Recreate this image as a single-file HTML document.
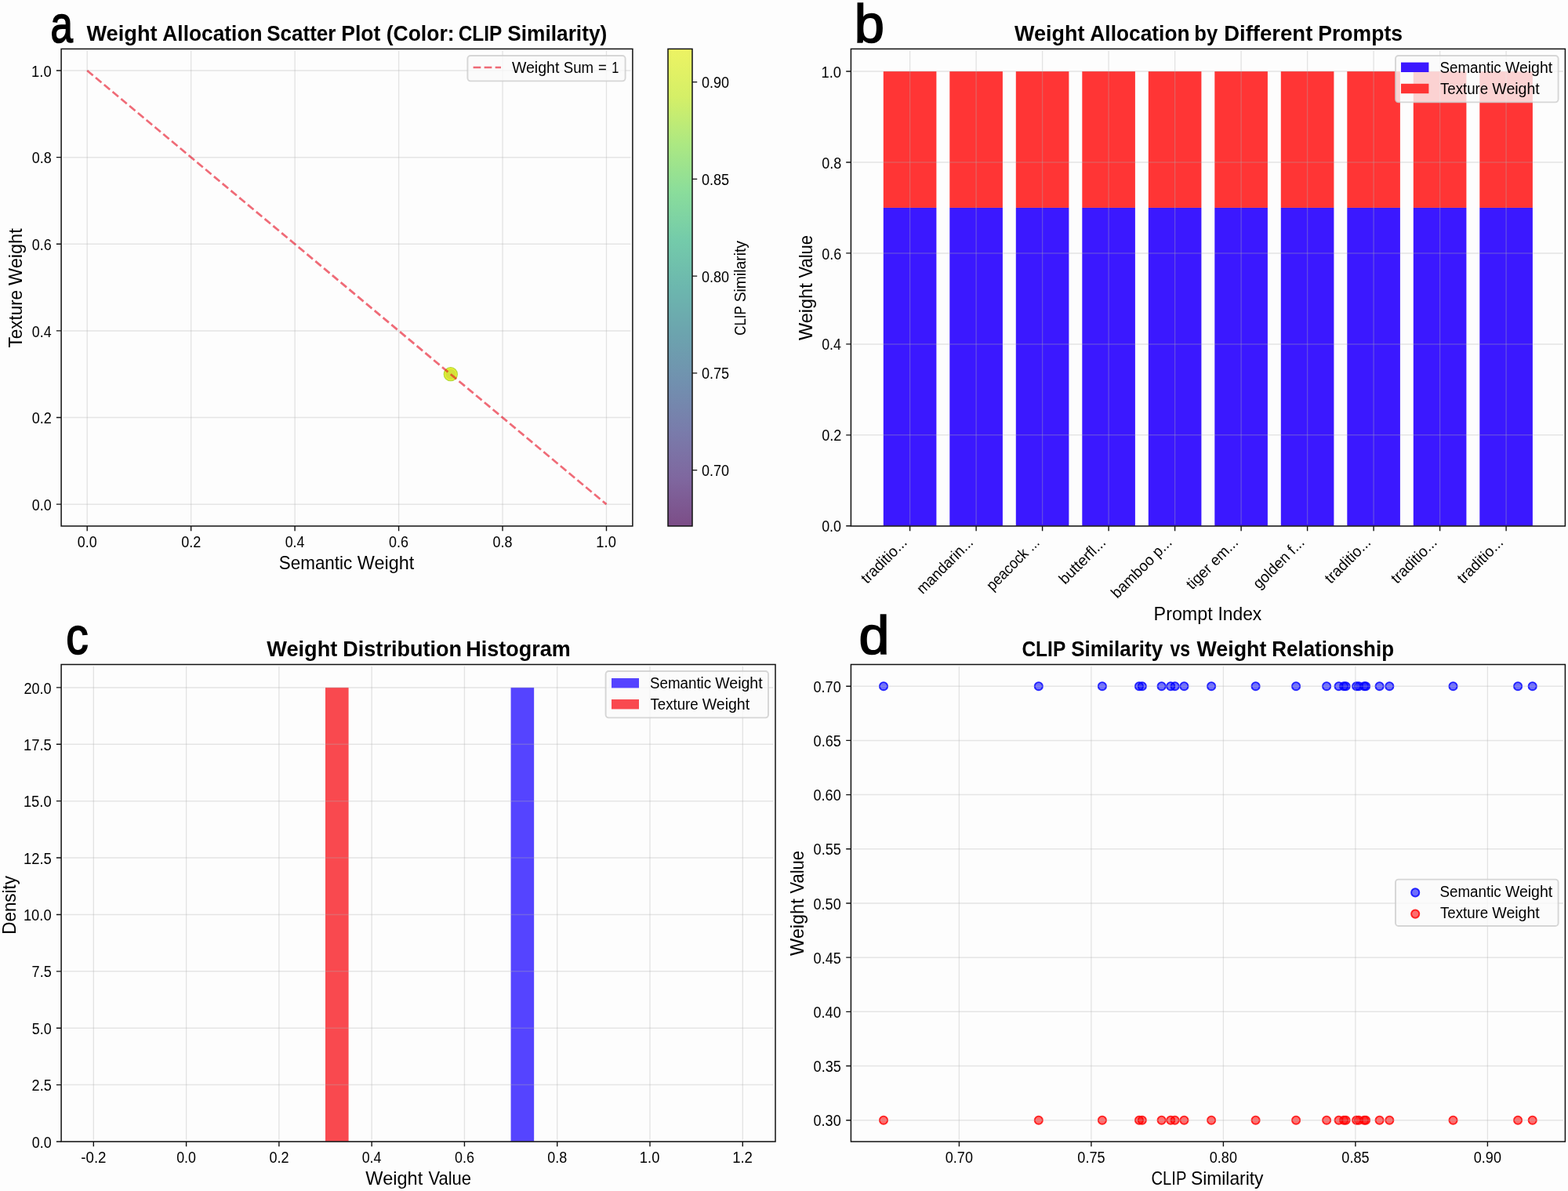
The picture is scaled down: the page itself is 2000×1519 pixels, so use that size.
<!DOCTYPE html>
<html lang="en"><head><meta charset="utf-8"><title>Weight Allocation Analysis</title>
<style>html,body{margin:0;padding:0;background:#fdfdfd}body{width:2000px;height:1519px;overflow:hidden}svg{display:block;font-family:'Liberation Sans', 'DejaVu Sans', sans-serif}text{fill:#000;white-space:pre}</style></head><body>
<svg xmlns="http://www.w3.org/2000/svg" width="2000" height="1519" viewBox="0 0 2000 1519">
<rect width="2000" height="1519" fill="#fdfdfd"/>
<g id="panel-a">
<circle cx="574.81" cy="477.22" r="8.5" fill="#d3e23a" stroke="#b4d83c" stroke-width="1.3"/>
<circle cx="574.81" cy="477.22" r="7.2" fill="none" stroke="#e6f032" stroke-width="1.3"/>
<path d="M111.2 64.7V668.65M243.66 64.7V668.65M376.12 64.7V668.65M508.58 64.7V668.65M641.04 64.7V668.65M773.5 64.7V668.65" stroke="#b0b0b0" stroke-opacity="0.33999999999999997" stroke-width="1.3" fill="none"/>
<path d="M80.4 643.15H804.6M80.4 532.53H804.6M80.4 421.91H804.6M80.4 311.29H804.6M80.4 200.67H804.6M80.4 90.05H804.6" stroke="#b0b0b0" stroke-opacity="0.3" stroke-width="1.5" fill="none"/>
<path d="M111.2 90.05L773.5 643.15" stroke="#e60a1e" stroke-opacity="0.6" stroke-width="2.7" stroke-dasharray="9.7 4.345" fill="none"/>
<rect x="78.1" y="62.4" width="728.8" height="608.55" fill="none" stroke="#111" stroke-width="1.5"/>
<path d="M111.2 670.95v6.2M243.66 670.95v6.2M376.12 670.95v6.2M508.58 670.95v6.2M641.04 670.95v6.2M773.5 670.95v6.2M78.1 643.15h-6.2M78.1 532.53h-6.2M78.1 421.91h-6.2M78.1 311.29h-6.2M78.1 200.67h-6.2M78.1 90.05h-6.2" stroke="#111" stroke-width="1.4" fill="none"/>
<text x="98.74" y="697.7" font-size="19.5" textLength="24.84" lengthAdjust="spacingAndGlyphs">0.0</text>
<text x="40.79" y="650.75" font-size="19.5" textLength="24.84" lengthAdjust="spacingAndGlyphs">0.0</text>
<text x="231.19" y="697.7" font-size="19.5" textLength="25.13" lengthAdjust="spacingAndGlyphs">0.2</text>
<text x="40.78" y="540.13" font-size="19.5" textLength="25.13" lengthAdjust="spacingAndGlyphs">0.2</text>
<text x="363.66" y="697.7" font-size="19.5" textLength="24.75" lengthAdjust="spacingAndGlyphs">0.4</text>
<text x="40.79" y="429.51" font-size="19.5" textLength="24.75" lengthAdjust="spacingAndGlyphs">0.4</text>
<text x="496.11" y="697.7" font-size="19.5" textLength="24.94" lengthAdjust="spacingAndGlyphs">0.6</text>
<text x="40.78" y="318.89" font-size="19.5" textLength="24.94" lengthAdjust="spacingAndGlyphs">0.6</text>
<text x="628.57" y="697.7" font-size="19.5" textLength="24.94" lengthAdjust="spacingAndGlyphs">0.8</text>
<text x="40.78" y="208.27" font-size="19.5" textLength="24.94" lengthAdjust="spacingAndGlyphs">0.8</text>
<text x="760.37" y="697.7" font-size="19.5" textLength="25.52" lengthAdjust="spacingAndGlyphs">1.0</text>
<text x="40.12" y="97.65" font-size="19.5" textLength="25.52" lengthAdjust="spacingAndGlyphs">1.0</text>
<text y="725.8" font-size="23.2"><tspan x="355.69" textLength="93.64" lengthAdjust="spacingAndGlyphs">Semantic</tspan> <tspan x="455.88" textLength="72.33" lengthAdjust="spacingAndGlyphs">Weight</tspan></text>
<text transform="translate(27.9 443) rotate(-90)" y="0" font-size="23.2"><tspan x="-0.45" textLength="73.54" lengthAdjust="spacingAndGlyphs">Texture</tspan> <tspan x="78.98" textLength="72.74" lengthAdjust="spacingAndGlyphs">Weight</tspan></text>
<text y="52.4" font-size="27.8" font-weight="bold"><tspan x="110.4" textLength="90.2" lengthAdjust="spacingAndGlyphs">Weight</tspan> <tspan x="207.34" textLength="127.2" lengthAdjust="spacingAndGlyphs">Allocation</tspan> <tspan x="340.22" textLength="88.19" lengthAdjust="spacingAndGlyphs">Scatter</tspan> <tspan x="435.28" textLength="50.09" lengthAdjust="spacingAndGlyphs">Plot</tspan> <tspan x="492.67" textLength="86.9" lengthAdjust="spacingAndGlyphs">(Color:</tspan> <tspan x="584.63" textLength="55.17" lengthAdjust="spacingAndGlyphs">CLIP</tspan> <tspan x="647.21" textLength="127.1" lengthAdjust="spacingAndGlyphs">Similarity)</tspan></text>
<text x="64.61" y="53.8" font-size="66" font-weight="bold" textLength="28.4" lengthAdjust="spacingAndGlyphs" style="font-weight:normal" stroke="#000" stroke-width="1.7" stroke-linejoin="miter">a</text>
<rect x="596.4" y="71" width="201.2" height="32.4" rx="3.8" fill="#fafafa" fill-opacity="0.8" stroke="#ccc" stroke-opacity="0.8" stroke-width="1.9"/>
<path d="M603.6 86H639" stroke="#e60a1e" stroke-opacity="0.6" stroke-width="2.7" stroke-dasharray="9.7 4.345" fill="none"/>
<text y="93.4" font-size="19.5"><tspan x="652.9" textLength="60.48" lengthAdjust="spacingAndGlyphs">Weight</tspan> <tspan x="718.76" textLength="38.38" lengthAdjust="spacingAndGlyphs">Sum</tspan> <tspan x="763.07" textLength="10.84" lengthAdjust="spacingAndGlyphs">=</tspan> <tspan x="780.28" textLength="9.08" lengthAdjust="spacingAndGlyphs">1</tspan></text>
<defs><linearGradient id="vir" x1="0" y1="1" x2="0" y2="0"><stop offset="0%" stop-color="rgb(124,77,135)"/><stop offset="10%" stop-color="rgb(127,103,159)"/><stop offset="20%" stop-color="rgb(121,124,171)"/><stop offset="30%" stop-color="rgb(113,144,175)"/><stop offset="40%" stop-color="rgb(108,163,174)"/><stop offset="50%" stop-color="rgb(108,183,174)"/><stop offset="60%" stop-color="rgb(116,203,170)"/><stop offset="70%" stop-color="rgb(138,221,155)"/><stop offset="80%" stop-color="rgb(172,232,130)"/><stop offset="90%" stop-color="rgb(213,239,103)"/><stop offset="100%" stop-color="rgb(237,243,99)"/></linearGradient></defs>
<rect x="852" y="62.4" width="31" height="608.55" fill="url(#vir)" stroke="#111" stroke-width="1.5"/>
<text x="894.88" y="607.2" font-size="19.5" textLength="35.08" lengthAdjust="spacingAndGlyphs">0.70</text>
<text x="894.88" y="483.45" font-size="19.5" textLength="35.17" lengthAdjust="spacingAndGlyphs">0.75</text>
<text x="894.88" y="359.7" font-size="19.5" textLength="35.08" lengthAdjust="spacingAndGlyphs">0.80</text>
<text x="894.88" y="235.95" font-size="19.5" textLength="35.17" lengthAdjust="spacingAndGlyphs">0.85</text>
<text x="894.88" y="112.2" font-size="19.5" textLength="35.08" lengthAdjust="spacingAndGlyphs">0.90</text>
<path d="M883 599.6h6.2M883 475.85h6.2M883 352.1h6.2M883 228.35h6.2M883 104.6h6.2" stroke="#111" stroke-width="1.4" fill="none"/>
<text transform="translate(951 427) rotate(-90)" y="0" font-size="19.5"><tspan x="-0.84" textLength="37.44" lengthAdjust="spacingAndGlyphs">CLIP</tspan> <tspan x="41.63" textLength="78.39" lengthAdjust="spacingAndGlyphs">Similarity</tspan></text>
</g>
<g id="panel-b">
<rect x="1126.8" y="264.94" width="67.6" height="405.86" fill="#3b18ff"/>
<rect x="1126.8" y="91" width="67.6" height="173.94" fill="#ff3535"/>
<rect x="1211.3" y="264.94" width="67.6" height="405.86" fill="#3b18ff"/>
<rect x="1211.3" y="91" width="67.6" height="173.94" fill="#ff3535"/>
<rect x="1295.8" y="264.94" width="67.6" height="405.86" fill="#3b18ff"/>
<rect x="1295.8" y="91" width="67.6" height="173.94" fill="#ff3535"/>
<rect x="1380.3" y="264.94" width="67.6" height="405.86" fill="#3b18ff"/>
<rect x="1380.3" y="91" width="67.6" height="173.94" fill="#ff3535"/>
<rect x="1464.8" y="264.94" width="67.6" height="405.86" fill="#3b18ff"/>
<rect x="1464.8" y="91" width="67.6" height="173.94" fill="#ff3535"/>
<rect x="1549.3" y="264.94" width="67.6" height="405.86" fill="#3b18ff"/>
<rect x="1549.3" y="91" width="67.6" height="173.94" fill="#ff3535"/>
<rect x="1633.8" y="264.94" width="67.6" height="405.86" fill="#3b18ff"/>
<rect x="1633.8" y="91" width="67.6" height="173.94" fill="#ff3535"/>
<rect x="1718.3" y="264.94" width="67.6" height="405.86" fill="#3b18ff"/>
<rect x="1718.3" y="91" width="67.6" height="173.94" fill="#ff3535"/>
<rect x="1802.8" y="264.94" width="67.6" height="405.86" fill="#3b18ff"/>
<rect x="1802.8" y="91" width="67.6" height="173.94" fill="#ff3535"/>
<rect x="1887.3" y="264.94" width="67.6" height="405.86" fill="#3b18ff"/>
<rect x="1887.3" y="91" width="67.6" height="173.94" fill="#ff3535"/>
<path d="M1160.6 64.7V668.65M1245.1 64.7V668.65M1329.6 64.7V668.65M1414.1 64.7V668.65M1498.6 64.7V668.65M1583.1 64.7V668.65M1667.6 64.7V668.65M1752.1 64.7V668.65M1836.6 64.7V668.65M1921.1 64.7V668.65" stroke="#b0b0b0" stroke-opacity="0.33999999999999997" stroke-width="1.3" fill="none"/>
<path d="M1087.7 670.8H1994.1M1087.7 554.84H1994.1M1087.7 438.88H1994.1M1087.7 322.92H1994.1M1087.7 206.96H1994.1M1087.7 91H1994.1" stroke="#b0b0b0" stroke-opacity="0.3" stroke-width="1.5" fill="none"/>
<rect x="1085.4" y="62.4" width="911" height="608.55" fill="none" stroke="#111" stroke-width="1.5"/>
<path d="M1160.6 670.95v6.2M1245.1 670.95v6.2M1329.6 670.95v6.2M1414.1 670.95v6.2M1498.6 670.95v6.2M1583.1 670.95v6.2M1667.6 670.95v6.2M1752.1 670.95v6.2M1836.6 670.95v6.2M1921.1 670.95v6.2M1085.4 670.8h-6.2M1085.4 554.84h-6.2M1085.4 438.88h-6.2M1085.4 322.92h-6.2M1085.4 206.96h-6.2M1085.4 91h-6.2" stroke="#111" stroke-width="1.4" fill="none"/>
<text x="1048.19" y="678.4" font-size="19.5" textLength="24.84" lengthAdjust="spacingAndGlyphs">0.0</text>
<text x="1048.18" y="562.44" font-size="19.5" textLength="25.13" lengthAdjust="spacingAndGlyphs">0.2</text>
<text x="1048.19" y="446.48" font-size="19.5" textLength="24.75" lengthAdjust="spacingAndGlyphs">0.4</text>
<text x="1048.18" y="330.52" font-size="19.5" textLength="24.94" lengthAdjust="spacingAndGlyphs">0.6</text>
<text x="1048.18" y="214.56" font-size="19.5" textLength="24.94" lengthAdjust="spacingAndGlyphs">0.8</text>
<text x="1047.52" y="98.6" font-size="19.5" textLength="25.52" lengthAdjust="spacingAndGlyphs">1.0</text>
<text transform="translate(1156.8 694.3) rotate(-45)" x="-71.9" y="0" font-size="19.5" textLength="73.73" lengthAdjust="spacingAndGlyphs">traditio...</text>
<text transform="translate(1241.3 694.3) rotate(-45)" x="-90.91" y="0" font-size="19.5" textLength="92.62" lengthAdjust="spacingAndGlyphs">mandarin...</text>
<text transform="translate(1325.8 694.3) rotate(-45)" x="-84.73" y="0" font-size="19.5" textLength="86.35" lengthAdjust="spacingAndGlyphs">peacock ...</text>
<text transform="translate(1410.3 694.3) rotate(-45)" x="-73.36" y="0" font-size="19.5" textLength="75.11" lengthAdjust="spacingAndGlyphs">butterfl...</text>
<text transform="translate(1494.8 694.3) rotate(-45)" x="-98.66" y="0" font-size="19.5" textLength="100.4" lengthAdjust="spacingAndGlyphs">bamboo p...</text>
<text transform="translate(1579.3 694.3) rotate(-45)" x="-82.79" y="0" font-size="19.5" textLength="84.52" lengthAdjust="spacingAndGlyphs">tiger em...</text>
<text transform="translate(1663.8 694.3) rotate(-45)" x="-81.75" y="0" font-size="19.5" textLength="83.5" lengthAdjust="spacingAndGlyphs">golden f...</text>
<text transform="translate(1748.3 694.3) rotate(-45)" x="-71.9" y="0" font-size="19.5" textLength="73.73" lengthAdjust="spacingAndGlyphs">traditio...</text>
<text transform="translate(1832.8 694.3) rotate(-45)" x="-71.9" y="0" font-size="19.5" textLength="73.73" lengthAdjust="spacingAndGlyphs">traditio...</text>
<text transform="translate(1917.3 694.3) rotate(-45)" x="-71.9" y="0" font-size="19.5" textLength="73.73" lengthAdjust="spacingAndGlyphs">traditio...</text>
<text y="791" font-size="23.2"><tspan x="1471.64" textLength="75.06" lengthAdjust="spacingAndGlyphs">Prompt</tspan> <tspan x="1553.45" textLength="55.81" lengthAdjust="spacingAndGlyphs">Index</tspan></text>
<text transform="translate(1035.9 434) rotate(-90)" y="0" font-size="23.2"><tspan x="-0.12" textLength="72.84" lengthAdjust="spacingAndGlyphs">Weight</tspan> <tspan x="79.39" textLength="54.68" lengthAdjust="spacingAndGlyphs">Value</tspan></text>
<text y="52.4" font-size="27.8" font-weight="bold"><tspan x="1294" textLength="89.39" lengthAdjust="spacingAndGlyphs">Weight</tspan> <tspan x="1390.34" textLength="127.2" lengthAdjust="spacingAndGlyphs">Allocation</tspan> <tspan x="1523.34" textLength="29.84" lengthAdjust="spacingAndGlyphs">by</tspan> <tspan x="1561.21" textLength="113.1" lengthAdjust="spacingAndGlyphs">Different</tspan> <tspan x="1681.27" textLength="107.82" lengthAdjust="spacingAndGlyphs">Prompts</tspan></text>
<text x="1089.79" y="53.6" font-size="69" font-weight="bold" textLength="38.19" lengthAdjust="spacingAndGlyphs" style="font-weight:normal" stroke="#000" stroke-width="1.7" stroke-linejoin="miter">b</text>
<rect x="1780" y="71" width="207.6" height="59.4" rx="3.8" fill="#fafafa" fill-opacity="0.8" stroke="#ccc" stroke-opacity="0.8" stroke-width="1.9"/>
<rect x="1787" y="79.6" width="35.4" height="12.4" fill="#3b18ff"/>
<rect x="1787" y="106.8" width="35.4" height="12.4" fill="#ff3535"/>
<text y="93.4" font-size="19.5"><tspan x="1836.56" textLength="78.19" lengthAdjust="spacingAndGlyphs">Semantic</tspan> <tspan x="1919.9" textLength="60.28" lengthAdjust="spacingAndGlyphs">Weight</tspan></text>
<text y="120.4" font-size="19.5"><tspan x="1837.03" textLength="61.2" lengthAdjust="spacingAndGlyphs">Texture</tspan> <tspan x="1903.3" textLength="60.48" lengthAdjust="spacingAndGlyphs">Weight</tspan></text>
</g>
<g id="panel-c">
<rect x="651.58" y="876.9" width="29.57" height="579.1" fill="#5544ff"/>
<rect x="415.02" y="876.9" width="29.57" height="579.1" fill="#f9494f"/>
<path d="M119.32 849.8V1453.7M237.6 849.8V1453.7M355.88 849.8V1453.7M474.16 849.8V1453.7M592.44 849.8V1453.7M710.72 849.8V1453.7M829 849.8V1453.7M947.28 849.8V1453.7" stroke="#b0b0b0" stroke-opacity="0.33999999999999997" stroke-width="1.3" fill="none"/>
<path d="M80.4 1456H986.7M80.4 1383.61H986.7M80.4 1311.22H986.7M80.4 1238.84H986.7M80.4 1166.45H986.7M80.4 1094.06H986.7M80.4 1021.67H986.7M80.4 949.29H986.7M80.4 876.9H986.7" stroke="#b0b0b0" stroke-opacity="0.3" stroke-width="1.5" fill="none"/>
<rect x="78.1" y="847.5" width="910.9" height="608.5" fill="none" stroke="#111" stroke-width="1.5"/>
<path d="M119.32 1456v6.2M237.6 1456v6.2M355.88 1456v6.2M474.16 1456v6.2M592.44 1456v6.2M710.72 1456v6.2M829 1456v6.2M947.28 1456v6.2M78.1 1456h-6.2M78.1 1383.61h-6.2M78.1 1311.22h-6.2M78.1 1238.84h-6.2M78.1 1166.45h-6.2M78.1 1094.06h-6.2M78.1 1021.67h-6.2M78.1 949.29h-6.2M78.1 876.9h-6.2" stroke="#111" stroke-width="1.4" fill="none"/>
<text x="103.28" y="1482.8" font-size="19.5" textLength="32.24" lengthAdjust="spacingAndGlyphs">-0.2</text>
<text x="225.14" y="1482.8" font-size="19.5" textLength="24.84" lengthAdjust="spacingAndGlyphs">0.0</text>
<text x="343.41" y="1482.8" font-size="19.5" textLength="25.13" lengthAdjust="spacingAndGlyphs">0.2</text>
<text x="461.7" y="1482.8" font-size="19.5" textLength="24.75" lengthAdjust="spacingAndGlyphs">0.4</text>
<text x="579.97" y="1482.8" font-size="19.5" textLength="24.94" lengthAdjust="spacingAndGlyphs">0.6</text>
<text x="698.25" y="1482.8" font-size="19.5" textLength="24.94" lengthAdjust="spacingAndGlyphs">0.8</text>
<text x="815.87" y="1482.8" font-size="19.5" textLength="25.52" lengthAdjust="spacingAndGlyphs">1.0</text>
<text x="934.14" y="1482.8" font-size="19.5" textLength="25.83" lengthAdjust="spacingAndGlyphs">1.2</text>
<text x="40.79" y="1463.6" font-size="19.5" textLength="24.84" lengthAdjust="spacingAndGlyphs">0.0</text>
<text x="40.6" y="1391.21" font-size="19.5" textLength="25.13" lengthAdjust="spacingAndGlyphs">2.5</text>
<text x="40.79" y="1318.82" font-size="19.5" textLength="24.84" lengthAdjust="spacingAndGlyphs">5.0</text>
<text x="40.6" y="1246.44" font-size="19.5" textLength="25.13" lengthAdjust="spacingAndGlyphs">7.5</text>
<text x="29.92" y="1174.05" font-size="19.5" textLength="35.74" lengthAdjust="spacingAndGlyphs">10.0</text>
<text x="29.92" y="1101.66" font-size="19.5" textLength="35.84" lengthAdjust="spacingAndGlyphs">12.5</text>
<text x="29.92" y="1029.27" font-size="19.5" textLength="35.74" lengthAdjust="spacingAndGlyphs">15.0</text>
<text x="29.92" y="956.89" font-size="19.5" textLength="35.84" lengthAdjust="spacingAndGlyphs">17.5</text>
<text x="30.39" y="884.5" font-size="19.5" textLength="35.26" lengthAdjust="spacingAndGlyphs">20.0</text>
<text y="1510.7" font-size="23.2"><tspan x="466.38" textLength="72.84" lengthAdjust="spacingAndGlyphs">Weight</tspan> <tspan x="546.39" textLength="54.68" lengthAdjust="spacingAndGlyphs">Value</tspan></text>
<text transform="translate(20 1190) rotate(-90)" x="-1.79" y="0" font-size="23.2" textLength="74.78" lengthAdjust="spacingAndGlyphs">Density</text>
<text y="837" font-size="27.8" font-weight="bold"><tspan x="340.3" textLength="90.09" lengthAdjust="spacingAndGlyphs">Weight</tspan> <tspan x="437.24" textLength="151.9" lengthAdjust="spacingAndGlyphs">Distribution</tspan> <tspan x="594.25" textLength="133.38" lengthAdjust="spacingAndGlyphs">Histogram</tspan></text>
<text x="84.18" y="834" font-size="66" font-weight="bold" textLength="28.39" lengthAdjust="spacingAndGlyphs" style="font-weight:normal" stroke="#000" stroke-width="1.7" stroke-linejoin="miter">c</text>
<rect x="772.6" y="856" width="207.4" height="59.4" rx="3.8" fill="#fafafa" fill-opacity="0.8" stroke="#ccc" stroke-opacity="0.8" stroke-width="1.9"/>
<rect x="780" y="865" width="35" height="12.4" fill="#5544ff"/>
<rect x="780" y="892" width="35" height="12.4" fill="#f9494f"/>
<text y="878.4" font-size="19.5"><tspan x="828.96" textLength="78.19" lengthAdjust="spacingAndGlyphs">Semantic</tspan> <tspan x="912.3" textLength="60.28" lengthAdjust="spacingAndGlyphs">Weight</tspan></text>
<text y="905.4" font-size="19.5"><tspan x="829.43" textLength="61.2" lengthAdjust="spacingAndGlyphs">Texture</tspan> <tspan x="895.7" textLength="60.48" lengthAdjust="spacingAndGlyphs">Weight</tspan></text>
</g>
<g id="panel-d">
<g fill="#0000ff" stroke="#0000ff" fill-opacity="0.56" stroke-opacity="0.82" stroke-width="1.9">
<circle cx="1127" cy="875.2" r="5.1"/>
<circle cx="1324.8" cy="875.2" r="5.1"/>
<circle cx="1405.9" cy="875.2" r="5.1"/>
<circle cx="1453" cy="875.2" r="5.1"/>
<circle cx="1456.8" cy="875.2" r="5.1"/>
<circle cx="1481.6" cy="875.2" r="5.1"/>
<circle cx="1493.2" cy="875.2" r="5.1"/>
<circle cx="1498.6" cy="875.2" r="5.1"/>
<circle cx="1510.4" cy="875.2" r="5.1"/>
<circle cx="1545.1" cy="875.2" r="5.1"/>
<circle cx="1601.6" cy="875.2" r="5.1"/>
<circle cx="1653.1" cy="875.2" r="5.1"/>
<circle cx="1692.1" cy="875.2" r="5.1"/>
<circle cx="1707.6" cy="875.2" r="5.1"/>
<circle cx="1714.1" cy="875.2" r="5.1"/>
<circle cx="1716.6" cy="875.2" r="5.1"/>
<circle cx="1730.1" cy="875.2" r="5.1"/>
<circle cx="1733.1" cy="875.2" r="5.1"/>
<circle cx="1740.1" cy="875.2" r="5.1"/>
<circle cx="1742.1" cy="875.2" r="5.1"/>
<circle cx="1759.6" cy="875.2" r="5.1"/>
<circle cx="1772.3" cy="875.2" r="5.1"/>
<circle cx="1853.5" cy="875.2" r="5.1"/>
<circle cx="1936.1" cy="875.2" r="5.1"/>
<circle cx="1954.7" cy="875.2" r="5.1"/>
</g>
<g fill="#ff0000" stroke="#ff0000" fill-opacity="0.56" stroke-opacity="0.82" stroke-width="1.9">
<circle cx="1127" cy="1428.7" r="5.1"/>
<circle cx="1324.8" cy="1428.7" r="5.1"/>
<circle cx="1405.9" cy="1428.7" r="5.1"/>
<circle cx="1453" cy="1428.7" r="5.1"/>
<circle cx="1456.8" cy="1428.7" r="5.1"/>
<circle cx="1481.6" cy="1428.7" r="5.1"/>
<circle cx="1493.2" cy="1428.7" r="5.1"/>
<circle cx="1498.6" cy="1428.7" r="5.1"/>
<circle cx="1510.4" cy="1428.7" r="5.1"/>
<circle cx="1545.1" cy="1428.7" r="5.1"/>
<circle cx="1601.6" cy="1428.7" r="5.1"/>
<circle cx="1653.1" cy="1428.7" r="5.1"/>
<circle cx="1692.1" cy="1428.7" r="5.1"/>
<circle cx="1707.6" cy="1428.7" r="5.1"/>
<circle cx="1714.1" cy="1428.7" r="5.1"/>
<circle cx="1716.6" cy="1428.7" r="5.1"/>
<circle cx="1730.1" cy="1428.7" r="5.1"/>
<circle cx="1733.1" cy="1428.7" r="5.1"/>
<circle cx="1740.1" cy="1428.7" r="5.1"/>
<circle cx="1742.1" cy="1428.7" r="5.1"/>
<circle cx="1759.6" cy="1428.7" r="5.1"/>
<circle cx="1772.3" cy="1428.7" r="5.1"/>
<circle cx="1853.5" cy="1428.7" r="5.1"/>
<circle cx="1936.1" cy="1428.7" r="5.1"/>
<circle cx="1954.7" cy="1428.7" r="5.1"/>
</g>
<path d="M1223.4 849.8V1453.7M1391.9 849.8V1453.7M1560.4 849.8V1453.7M1728.9 849.8V1453.7M1897.4 849.8V1453.7" stroke="#b0b0b0" stroke-opacity="0.33999999999999997" stroke-width="1.3" fill="none"/>
<path d="M1087.7 1428.7H1994.1M1087.7 1359.51H1994.1M1087.7 1290.33H1994.1M1087.7 1221.14H1994.1M1087.7 1151.95H1994.1M1087.7 1082.76H1994.1M1087.7 1013.58H1994.1M1087.7 944.39H1994.1M1087.7 875.2H1994.1" stroke="#b0b0b0" stroke-opacity="0.3" stroke-width="1.5" fill="none"/>
<rect x="1085.4" y="847.5" width="911" height="608.5" fill="none" stroke="#111" stroke-width="1.5"/>
<path d="M1223.4 1456v6.2M1391.9 1456v6.2M1560.4 1456v6.2M1728.9 1456v6.2M1897.4 1456v6.2M1085.4 1428.7h-6.2M1085.4 1359.51h-6.2M1085.4 1290.33h-6.2M1085.4 1221.14h-6.2M1085.4 1151.95h-6.2M1085.4 1082.76h-6.2M1085.4 1013.58h-6.2M1085.4 944.39h-6.2M1085.4 875.2h-6.2" stroke="#111" stroke-width="1.4" fill="none"/>
<text x="1205.83" y="1482.8" font-size="19.5" textLength="35.08" lengthAdjust="spacingAndGlyphs">0.70</text>
<text x="1374.33" y="1482.8" font-size="19.5" textLength="35.17" lengthAdjust="spacingAndGlyphs">0.75</text>
<text x="1542.83" y="1482.8" font-size="19.5" textLength="35.08" lengthAdjust="spacingAndGlyphs">0.80</text>
<text x="1711.33" y="1482.8" font-size="19.5" textLength="35.17" lengthAdjust="spacingAndGlyphs">0.85</text>
<text x="1879.83" y="1482.8" font-size="19.5" textLength="35.08" lengthAdjust="spacingAndGlyphs">0.90</text>
<text x="1037.58" y="1436.3" font-size="19.5" textLength="35.08" lengthAdjust="spacingAndGlyphs">0.30</text>
<text x="1037.58" y="1367.11" font-size="19.5" textLength="35.17" lengthAdjust="spacingAndGlyphs">0.35</text>
<text x="1037.58" y="1297.92" font-size="19.5" textLength="35.08" lengthAdjust="spacingAndGlyphs">0.40</text>
<text x="1037.58" y="1228.74" font-size="19.5" textLength="35.17" lengthAdjust="spacingAndGlyphs">0.45</text>
<text x="1037.58" y="1159.55" font-size="19.5" textLength="35.08" lengthAdjust="spacingAndGlyphs">0.50</text>
<text x="1037.58" y="1090.36" font-size="19.5" textLength="35.17" lengthAdjust="spacingAndGlyphs">0.55</text>
<text x="1037.58" y="1021.18" font-size="19.5" textLength="35.08" lengthAdjust="spacingAndGlyphs">0.60</text>
<text x="1037.58" y="951.99" font-size="19.5" textLength="35.17" lengthAdjust="spacingAndGlyphs">0.65</text>
<text x="1037.58" y="882.8" font-size="19.5" textLength="35.08" lengthAdjust="spacingAndGlyphs">0.70</text>
<text y="1510.7" font-size="23.2"><tspan x="1468.5" textLength="44.57" lengthAdjust="spacingAndGlyphs">CLIP</tspan> <tspan x="1518.97" textLength="92.55" lengthAdjust="spacingAndGlyphs">Similarity</tspan></text>
<text transform="translate(1025 1219) rotate(-90)" y="0" font-size="23.2"><tspan x="-0.12" textLength="72.84" lengthAdjust="spacingAndGlyphs">Weight</tspan> <tspan x="79.39" textLength="54.68" lengthAdjust="spacingAndGlyphs">Value</tspan></text>
<text y="837" font-size="27.8" font-weight="bold"><tspan x="1303.43" textLength="55.37" lengthAdjust="spacingAndGlyphs">CLIP</tspan> <tspan x="1366.22" textLength="116.96" lengthAdjust="spacingAndGlyphs">Similarity</tspan> <tspan x="1492.38" textLength="25.59" lengthAdjust="spacingAndGlyphs">vs</tspan> <tspan x="1526.5" textLength="88.89" lengthAdjust="spacingAndGlyphs">Weight</tspan> <tspan x="1622.31" textLength="155.74" lengthAdjust="spacingAndGlyphs">Relationship</tspan></text>
<text x="1095.45" y="834" font-size="69" font-weight="bold" textLength="38.93" lengthAdjust="spacingAndGlyphs" style="font-weight:normal" stroke="#000" stroke-width="1.7" stroke-linejoin="miter">d</text>
<rect x="1780" y="1121.6" width="207.6" height="59.4" rx="3.8" fill="#fafafa" fill-opacity="0.8" stroke="#ccc" stroke-opacity="0.8" stroke-width="1.9"/>
<circle cx="1805.2" cy="1138.4" r="5.1" fill="#0000ff" stroke="#0000ff" fill-opacity="0.56" stroke-opacity="0.82" stroke-width="1.9"/>
<circle cx="1805.2" cy="1165.6" r="5.1" fill="#ff0000" stroke="#ff0000" fill-opacity="0.56" stroke-opacity="0.82" stroke-width="1.9"/>
<text y="1144" font-size="19.5"><tspan x="1836.56" textLength="78.19" lengthAdjust="spacingAndGlyphs">Semantic</tspan> <tspan x="1919.9" textLength="60.28" lengthAdjust="spacingAndGlyphs">Weight</tspan></text>
<text y="1171" font-size="19.5"><tspan x="1837.03" textLength="61.2" lengthAdjust="spacingAndGlyphs">Texture</tspan> <tspan x="1903.3" textLength="60.48" lengthAdjust="spacingAndGlyphs">Weight</tspan></text>
</g>
</svg></body></html>
